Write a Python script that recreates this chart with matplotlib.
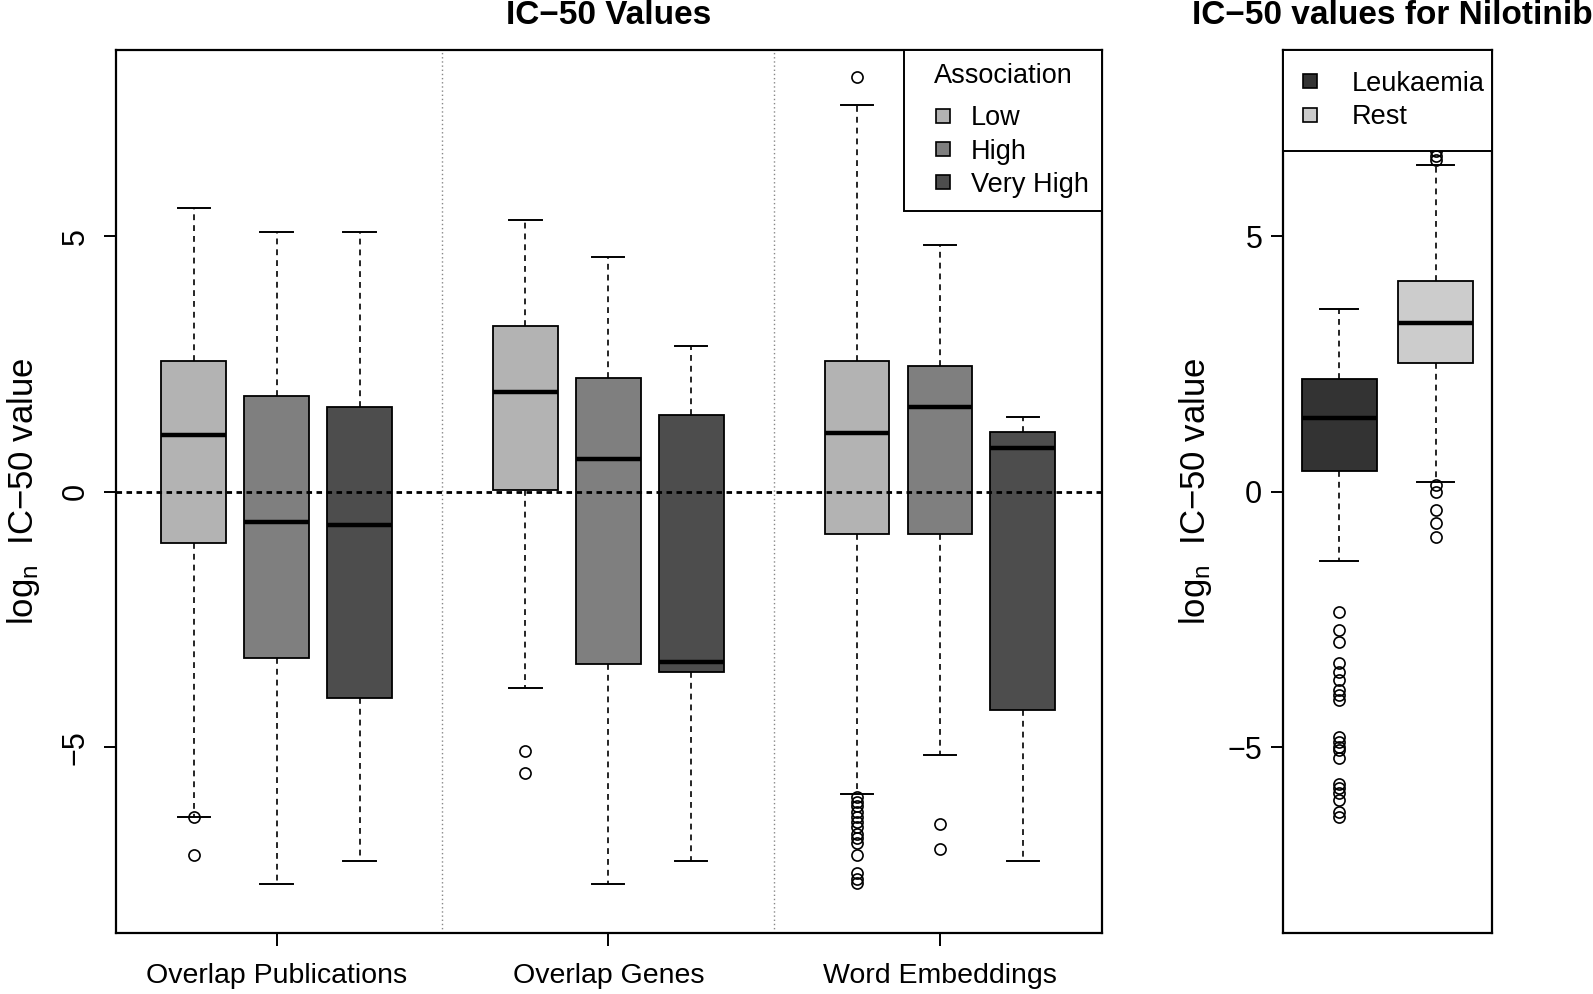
import matplotlib
matplotlib.use('Agg')
import matplotlib.pyplot as plt
from matplotlib.lines import Line2D

plt.rcParams['font.family'] = ['Liberation Sans', 'DejaVu Sans']

# ---------------- data ----------------
methods = ['Overlap Publications', 'Overlap Genes', 'Word Embeddings']
levels = ['Low', 'High', 'Very High']
level_colors = ['#b3b3b3', '#7f7f7f', '#4d4d4d']

# boxes in order: (method, level) method-major
whislo_main = [-6.36, -7.67, -7.22, -3.84, -7.67, -7.22, -5.92, -5.15, -7.22]
q1_main = [-1.01, -3.26, -4.04, 0.04, -3.38, -3.52, -0.83, -0.82, -4.27]
med_main = [1.11, -0.60, -0.66, 1.95, 0.64, -3.34, 1.15, 1.65, 0.85]
q3_main = [2.56, 1.87, 1.65, 3.24, 2.23, 1.51, 2.56, 2.47, 1.17]
whishi_main = [5.55, 5.09, 5.09, 5.31, 4.59, 2.86, 7.57, 4.83, 1.47]
fliers_main = [
    [-6.36, -7.10],
    [],
    [],
    [-5.07, -5.51],
    [],
    [],
    [8.11, -5.97, -6.07, -6.16, -6.26, -6.36, -6.46, -6.56, -6.69, -6.78,
     -6.88, -7.11, -7.47, -7.57, -7.66],
    [-6.51, -7.00],
    [],
]

nilo_groups = ['Leukaemia', 'Rest']
nilo_colors = ['#333333', '#cccccc']
whislo_nilo = [-1.35, 0.20]
q1_nilo = [0.40, 2.52]
med_nilo = [1.45, 3.30]
q3_nilo = [2.21, 4.12]
whishi_nilo = [3.58, 6.40]
fliers_nilo = [
    [-2.35, -2.71, -2.94, -3.36, -3.52, -3.69, -3.88, -3.98, -4.08, -4.79,
     -4.89, -4.99, -5.05, -5.22, -5.71, -5.80, -5.90, -6.03, -6.26, -6.36],
    [6.50, 6.58, 6.66, 0.13, 0.00, -0.36, -0.62, -0.88],
]

# ---------------- figure ----------------
W, H = 1593, 994
fig = plt.figure(figsize=(W / 100, H / 100), dpi=100)

ax = fig.add_axes([115.8 / W, 1 - 932.7 / H, (1102.4 - 115.8) / W, (932.7 - 49.8) / H])
ax2 = fig.add_axes([1283.2 / W, 1 - 932.7 / H, (1491.5 - 1283.2) / W, (932.7 - 49.8) / H])

box_kw = dict(patch_artist=True, showfliers=True,
              boxprops=dict(linewidth=1.3, edgecolor='black'),
              medianprops=dict(color='black', linewidth=3.2),
              whiskerprops=dict(linestyle=(0, (3.5, 3)), linewidth=1.2, color='black'),
              capprops=dict(linewidth=1.4, color='black'),
              flierprops=dict(marker='o', markerfacecolor='none', markeredgecolor='black',
                              markersize=8, markeredgewidth=1.2, linestyle='none'))

# main panel
positions = [1, 2, 3, 5, 6, 7, 9, 10, 11]
stats = []
for i in range(len(med_main)):
    stats.append(dict(med=med_main[i], q1=q1_main[i], q3=q3_main[i],
                      whislo=whislo_main[i], whishi=whishi_main[i], fliers=fliers_main[i]))
bp = ax.bxp(stats, positions=positions, widths=0.78, capwidths=0.39, **box_kw)
for i, patch in enumerate(bp['boxes']):
    patch.set_facecolor(level_colors[i % 3])

ax.axhline(0, color='black', linestyle=(0, (2, 1.6)), linewidth=2, zorder=5)
for xs in [4, 8]:
    ax.axvline(xs, color='#888888', linestyle=(0, (1, 2)), linewidth=1)

ax.set_xlim(0.06, 11.96)
ax.set_ylim(-8.63, 8.65)
ax.set_xticks([2, 6, 10])
ax.set_xticklabels(methods, fontsize=20.5)
ax.set_yticks([-5, 0, 5])
ax.set_yticklabels(['−5', '0', '5'], fontsize=22, rotation=90, va='center')
ax.tick_params(axis='x', length=9, width=1.4, pad=13)
ax.tick_params(axis='y', length=9, width=1.4, pad=9)
for s in ax.spines.values():
    s.set_linewidth(1.6)
ax.set_ylabel(r'$\mathregular{log_n}$  IC−50 value', fontsize=25)
ax.yaxis.set_label_coords(-0.075, 0.5)


def square_handles(colors):
    return [Line2D([], [], marker='s', linestyle='none', markerfacecolor=c,
                   markeredgecolor='black', markersize=10, markeredgewidth=1.2)
            for c in colors]


leg = ax.legend(square_handles(level_colors), levels, title='Association',
                loc='upper right', borderaxespad=0, fancybox=False, edgecolor='black',
                framealpha=1, fontsize=19.5, title_fontsize=19.5,
                handlelength=1.88, borderpad=0.5, labelspacing=0.27,
                handletextpad=0.11)
leg.get_frame().set_linewidth(1.4)
leg._legend_box.sep = 11.5

# Nilotinib panel
stats2 = []
for i in range(len(med_nilo)):
    stats2.append(dict(med=med_nilo[i], q1=q1_nilo[i], q3=q3_nilo[i],
                       whislo=whislo_nilo[i], whishi=whishi_nilo[i], fliers=fliers_nilo[i]))
bp2 = ax2.bxp(stats2, positions=[1, 2], widths=0.78, capwidths=0.39, **box_kw)
for i, patch in enumerate(bp2['boxes']):
    patch.set_facecolor(nilo_colors[i])

ax2.set_xlim(0.42, 2.58)
ax2.set_ylim(-8.63, 8.65)
ax2.set_xticks([])
ax2.set_yticks([-5, 0, 5])
ax2.set_yticklabels(['−5', '0', '5'], fontsize=22)
ax2.tick_params(axis='y', length=9, width=1.4, pad=6)
for s in ax2.spines.values():
    s.set_linewidth(1.6)
ax2.set_ylabel(r'$\mathregular{log_n}$  IC−50 value', fontsize=25)
ax2.yaxis.set_label_coords(-0.332, 0.5)

leg2 = ax2.legend(square_handles(nilo_colors), nilo_groups, loc='upper left',
                  borderaxespad=0, fancybox=False, edgecolor='black', framealpha=1,
                  fontsize=19.5, handlelength=0.45, borderpad=0.78,
                  labelspacing=0.27, handletextpad=1.3, mode='expand',
                  bbox_to_anchor=(0, 0, 1, 1))
leg2.get_frame().set_linewidth(1.4)

fig.text((115.8 + 1102.4) / 2 / W, 1 - 15 / H, 'IC−50 Values', fontsize=24,
         fontweight='bold', ha='center', va='center')
fig.text((1283.2 + 1491.5) / 2 / W + 5 / W, 1 - 15 / H, 'IC−50 values for Nilotinib',
         fontsize=24, fontweight='bold', ha='center', va='center')

fig.savefig('out.png', dpi=100)
